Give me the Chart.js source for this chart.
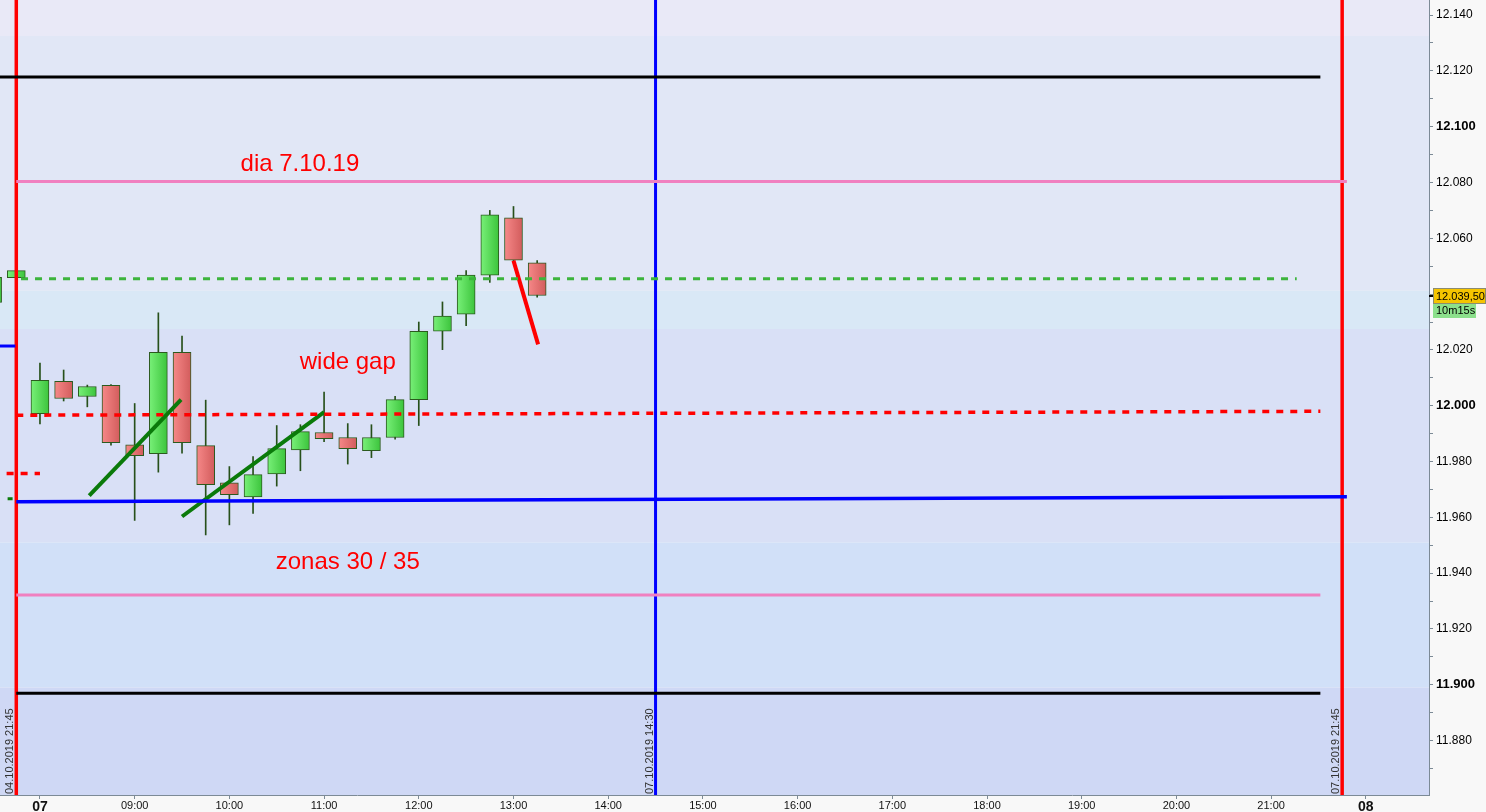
<!DOCTYPE html>
<html>
  <head>
    <title>DAX 15m</title>
    <script src="https://cdn.jsdelivr.net/npm/chart.js"></script>
    <style>
      html, body { margin: 0; padding: 0; background: #f8f8f8; }
      #wrap { width: 1486px; height: 812px; }
    </style>
  </head>
  <body>
    <div id="wrap"><canvas id="candleChart"></canvas></div>

    <script>
      // 15 minute candles, time in hours (8 = session start "07")
      const times = [7.5, 7.75, 8, 8.25, 8.5, 8.75, 9, 9.25, 9.5, 9.75, 10, 10.25, 10.5, 10.75, 11, 11.25, 11.5, 11.75, 12, 12.25, 12.5, 12.75, 13, 13.25];
      const opens  = [12037, 12045.9, 11997.2, 12008.7, 12003.3, 12007.3, 11986.0, 11982.8, 12019.1, 11985.7, 11972.4, 11967.3, 11975.6, 11984.2, 11990.4, 11988.6, 11983.9, 11988.6, 12002.2, 12026.7, 12032.8, 12046.8, 12067.3, 12051.2];
      const highs  = [12047, 12049.0, 12015.3, 12012.8, 12007.4, 12007.6, 12000.8, 12033.3, 12025.0, 12002.0, 11978.2, 11981.8, 11992.9, 11993.2, 12004.9, 11993.6, 11993.2, 12003.4, 12030.0, 12037.2, 12048.4, 12070.0, 12071.4, 12052.0];
      const lows   = [12036, 12045.5, 11993.5, 12001.7, 11999.6, 11985.9, 11958.9, 11976.2, 11983.0, 11953.7, 11957.3, 11961.4, 11971.2, 11976.7, 11987.1, 11979.1, 11981.4, 11988.0, 11992.9, 12020.1, 12028.7, 12044.2, 12052.0, 12038.9];
      const closes = [12046, 12048.4, 12009.1, 12002.6, 12006.9, 11986.8, 11982.1, 12019.1, 11986.8, 11971.7, 11968.1, 11975.3, 11984.6, 11990.7, 11988.2, 11984.6, 11988.6, 12002.2, 12026.7, 12032.1, 12046.8, 12068.4, 12052.2, 12039.5];

      // drawn levels: [startHour, startPrice, endHour, endPrice]
      const blackTop    = [7.5, 12117.8, 21.52, 12117.8];
      const pinkTop     = [7.75, 12080.4, 21.8, 12080.4];
      const greenDash   = [7.8, 12045.5, 21.27, 12045.5];
      const redDash     = [7.75, 11996.6, 21.52, 11998.0];
      const blueLevel   = [7.75, 11965.6, 21.8, 11967.4];
      const pinkBottom  = [7.75, 11932.2, 21.52, 11932.2];
      const blackBottom = [7.75, 11897.0, 21.52, 11897.0];
      const oldRedDash  = [7.5, 11975.7, 8.0, 11975.7];
      const oldGreenDash = [7.5, 11966.7, 7.75, 11966.7];
      const oldBlue     = [7.5, 12021.4, 7.74, 12021.4];
      const trend1      = [8.52, 11967.8, 9.49, 12002.2];
      const trend2      = [9.5, 11960.3, 11.0, 11997.7];
      const redStroke   = [13.0, 12052.0, 13.26, 12022.0];

      // vertical session markers
      const vLines = [7.75, 14.5, 21.75];
      const vLabels = ["04.10.2019 21:45", "07.10.2019 14:30", "07.10.2019 21:45"];

      // background price zones (upper edge, lower edge)
      const zoneEdges = [12146, 12132.5, 12041.2, 12027.5, 11951, 11899, 11859];
      const zoneColors = ["#e9e9f7", "#e1e7f6", "#d9e8f6", "#d9e0f6", "#d1e0f8", "#cfd8f5"];

      // text notes: [hour, price, text]
      const notes = [
        [10.745, 12086.5, "dia 7.10.19"],
        [11.25, 12015.5, "wide gap"],
        [11.25, 11944.0, "zonas 30 / 35"],
      ];
      const lastPrice = 12039.5;
      const lastPriceText = "12.039,50";
      const countdownText = "10m15s";

      const xMin = 7.578, xMax = 22.667;
      const yMin = 11860.5, yMax = 12145.4;

      function seg(a) {
        return [{ x: a[0], y: a[1] }, { x: a[2], y: a[3] }];
      }

      function lineSet(a, color, width, dash) {
        return {
          type: "line",
          data: seg(a),
          borderColor: color,
          borderWidth: width,
          borderDash: dash || [],
          pointRadius: 0,
          fill: false,
          order: 1,
        };
      }

      const bodyData = times.map((t, i) => ({ x: t, y: [opens[i], closes[i]], up: closes[i] >= opens[i] }));
      const wickData = times.map((t, i) => ({ x: t, y: [lows[i], highs[i]] }));

      function bodyFill(ctx) {
        const raw = ctx.raw;
        const chart = ctx.chart;
        if (!raw || !chart.chartArea) return "#5ad85a";
        const px = chart.scales.x.getPixelForValue(raw.x);
        const g = chart.ctx.createLinearGradient(px - 9, 0, px + 9, 0);
        if (raw.up) {
          g.addColorStop(0, "#78f078");
          g.addColorStop(1, "#3cc43c");
        } else {
          g.addColorStop(0, "#f68888");
          g.addColorStop(1, "#d25c5c");
        }
        return g;
      }

      const datasets = [
        {
          type: "bar",
          data: wickData,
          backgroundColor: "#27501a",
          barThickness: 1,
          grouped: false,
          order: 11,
        },
        {
          type: "bar",
          data: bodyData,
          backgroundColor: bodyFill,
          borderColor: "#2b5a1e",
          borderWidth: 1,
          borderSkipped: false,
          barThickness: 18,
          grouped: false,
          order: 10,
        },
        lineSet(blackTop, "#000000", 3),
        lineSet(pinkTop, "#f080c0", 3),
        lineSet(greenDash, "#3cb43c", 3, [7, 7]),
        lineSet(redDash, "#ff0000", 3.5, [7, 7]),
        lineSet(blueLevel, "#0000ff", 3.5),
        lineSet(pinkBottom, "#f080c0", 3),
        lineSet(blackBottom, "#000000", 3),
        lineSet(oldRedDash, "#ff0000", 3.5, [7, 7]),
        lineSet(oldGreenDash, "#0a7a0a", 3, [5, 10]),
        lineSet(oldBlue, "#0000ff", 3),
        lineSet(trend1, "#0a7a0a", 4),
        lineSet(trend2, "#0a7a0a", 4),
        lineSet(redStroke, "#ff0000", 4),
        lineSet([vLines[0], 11800, vLines[0], 12200], "#ff0000", 3.5),
        lineSet([vLines[1], 11800, vLines[1], 12200], "#0000ff", 3),
        lineSet([vLines[2], 11800, vLines[2], 12200], "#ff0000", 3.5),
      ];

      function fmtPrice(v) {
        const s = Math.round(v).toString();
        return s.slice(0, s.length - 3) + "." + s.slice(-3);
      }

      const overlayPlugin = {
        id: "overlay",
        beforeDatasetsDraw(chart) {
          const { ctx, chartArea: a, scales } = chart;
          ctx.save();
          for (let i = 0; i < zoneColors.length; i++) {
            const y1 = Math.max(a.top, scales.y.getPixelForValue(zoneEdges[i]));
            const y2 = Math.min(a.bottom, scales.y.getPixelForValue(zoneEdges[i + 1]));
            ctx.fillStyle = zoneColors[i];
            ctx.fillRect(a.left, y1, a.right - a.left, y2 - y1);
          }
          ctx.restore();
        },
        afterDatasetsDraw(chart) {
          const { ctx, chartArea: a, scales } = chart;
          ctx.save();
          // notes
          ctx.fillStyle = "#ff0000";
          ctx.font = "24px 'Liberation Sans', Arial, sans-serif";
          ctx.textAlign = "center";
          ctx.textBaseline = "middle";
          notes.forEach((n) => {
            ctx.fillText(n[2], scales.x.getPixelForValue(n[0]), scales.y.getPixelForValue(n[1]));
          });
          // vertical marker labels
          ctx.fillStyle = "#333333";
          ctx.font = "11px 'Liberation Sans', Arial, sans-serif";
          ctx.textAlign = "left";
          vLines.forEach((h, i) => {
            const px = scales.x.getPixelForValue(h);
            ctx.save();
            ctx.translate(px - 6, a.bottom - 1);
            ctx.rotate(-Math.PI / 2);
            ctx.fillText(vLabels[i], 0, 0);
            ctx.restore();
          });
          ctx.restore();
        },
        afterDraw(chart) {
          const { ctx, chartArea: a, scales } = chart;
          const py = Math.round(scales.y.getPixelForValue(lastPrice));
          const x0 = a.right + 4;
          ctx.save();
          ctx.fillStyle = "#000000";
          ctx.fillRect(a.right, py - 1, 4, 2);
          ctx.font = "11px 'Liberation Sans', Arial, sans-serif";
          ctx.textBaseline = "middle";
          ctx.textAlign = "left";
          ctx.fillStyle = "#f5c400";
          ctx.fillRect(x0, py - 8, 53, 16);
          ctx.strokeStyle = "#8c8c70";
          ctx.lineWidth = 1;
          ctx.strokeRect(x0 + 0.5, py - 7.5, 52, 15);
          ctx.fillStyle = "#000000";
          ctx.fillText(lastPriceText, x0 + 3, py + 0.5);
          ctx.fillStyle = "#8ce08c";
          ctx.fillRect(x0, py + 8, 43, 14);
          ctx.fillStyle = "#000000";
          ctx.fillText(countdownText, x0 + 3, py + 15);
          ctx.restore();
        },
      };

      new Chart(document.getElementById("candleChart").getContext("2d"), {
        type: "bar",
        data: { datasets: datasets },
        options: {
          responsive: true,
          maintainAspectRatio: false,
          animation: false,
          layout: { padding: 0 },
          plugins: {
            legend: { display: false },
            tooltip: { enabled: false },
          },
          scales: {
            x: {
              type: "linear",
              offset: false,
              min: xMin,
              max: xMax,
              afterFit(scale) {
                scale.height = 17;
                scale.paddingLeft = 0;
                scale.paddingRight = 0;
              },
              border: { display: true, color: "#7c8a96", width: 1 },
              grid: { display: true, drawOnChartArea: false, tickLength: 4, color: "#7c8a96", offset: false },
              ticks: {
                stepSize: 1,
                includeBounds: false,
                maxRotation: 0,
                autoSkip: false,
                padding: 0,
                color: "#111111",
                font: (c) => {
                  const v = c.tick ? c.tick.value : 0;
                  return v === 8 || v === 22
                    ? { family: "'Liberation Sans Narrow', 'Liberation Sans', Arial", size: 14, weight: "bold" }
                    : { family: "'Liberation Sans Narrow', 'Liberation Sans', Arial", size: 11 };
                },
                callback: (v) => {
                  if (v === 8) return "07";
                  if (v === 22) return "08";
                  return String(v).padStart(2, "0") + ":00";
                },
              },
            },
            y: {
              type: "linear",
              position: "right",
              min: yMin,
              max: yMax,
              afterFit(scale) {
                scale.width = 57;
                scale.paddingTop = 0;
                scale.paddingBottom = 0;
              },
              border: { display: true, color: "#7c8a96", width: 1 },
              grid: { display: true, drawOnChartArea: false, tickLength: 4, color: "#7c8a96" },
              ticks: {
                stepSize: 10,
                includeBounds: false,
                autoSkip: false,
                padding: 3,
                color: "#000000",
                font: (c) => {
                  const v = c.tick ? c.tick.value : 0;
                  return Math.round(v) % 100 === 0
                    ? { family: "'Liberation Sans', Arial", size: 13, weight: "bold" }
                    : { family: "'Liberation Sans', Arial", size: 12 };
                },
                callback: (v) => (Math.round(v) % 20 === 0 ? fmtPrice(v) : ""),
              },
            },
          },
        },
        plugins: [overlayPlugin],
      });
    </script>
  </body>
</html>
